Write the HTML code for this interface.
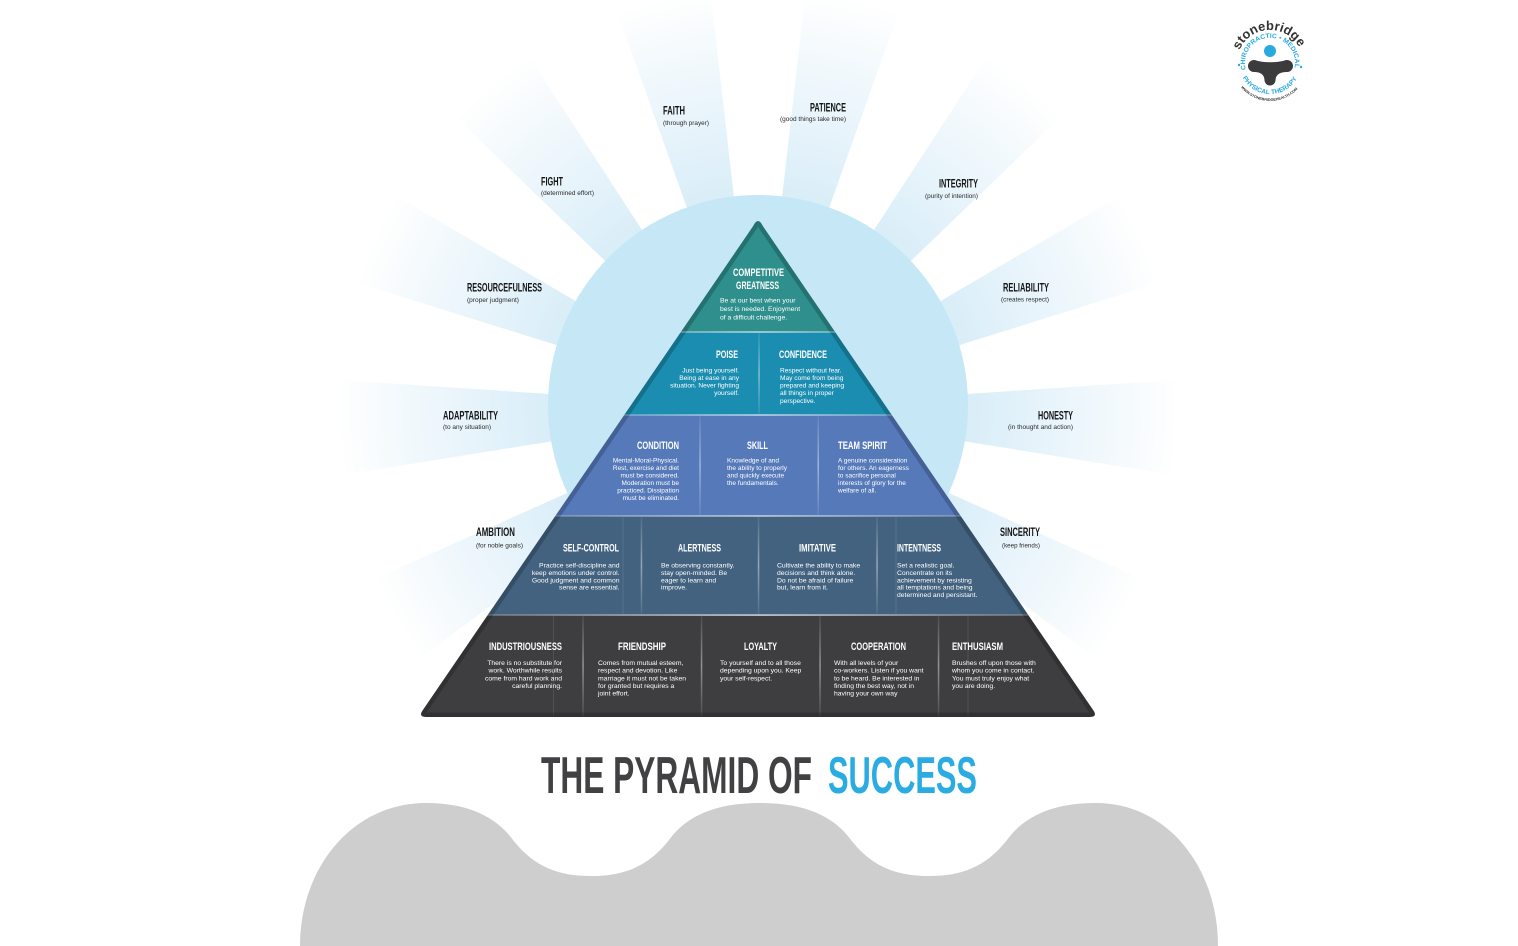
<!DOCTYPE html>
<html><head><meta charset="utf-8">
<style>
html,body{margin:0;padding:0;background:#fff;}
svg{display:block;}
.h{font-family:"Liberation Sans Narrow","Liberation Sans",sans-serif;font-weight:700;fill:#fff;font-size:11px;}
.b{font-family:"Liberation Sans",sans-serif;fill:#fff;}
.oh{font-family:"Liberation Sans Narrow","Liberation Sans",sans-serif;font-weight:700;fill:#151515;font-size:12px;}
.os{font-family:"Liberation Sans",sans-serif;fill:#2a2a2a;font-size:6px;}
.t{font-family:"Liberation Sans Narrow","Liberation Sans",sans-serif;font-weight:700;font-size:52px;}
</style></head><body>
<svg width="1518" height="946" viewBox="0 0 1518 946" xmlns="http://www.w3.org/2000/svg">
<defs>
<radialGradient id="rg" gradientUnits="userSpaceOnUse" cx="758" cy="408" r="420">
<stop offset="0.49" stop-color="#d8edf8"/>
<stop offset="0.7" stop-color="#e8f4fb"/>
<stop offset="0.88" stop-color="#f5fafd"/>
<stop offset="1" stop-color="#ffffff"/>
</radialGradient>
<clipPath id="pc"><path d="M753.2,226 Q758,216 762.8,226 L1093.1,710 Q1098,717 1090,717 L426,717 Q418,717 422.9,710 Z"/></clipPath>
<linearGradient id="hs" x1="0" x2="1" y1="0" y2="0"><stop offset="0" stop-color="#fff" stop-opacity="0.15"/><stop offset="0.5" stop-color="#fff" stop-opacity="0.65"/><stop offset="1" stop-color="#fff" stop-opacity="0.15"/></linearGradient>
<linearGradient id="vs" x1="0" x2="0" y1="0" y2="1"><stop offset="0" stop-color="#fff" stop-opacity="0.08"/><stop offset="0.5" stop-color="#fff" stop-opacity="0.45"/><stop offset="1" stop-color="#fff" stop-opacity="0.08"/></linearGradient>
<path id="arcS" d="M1239.6,50.1 A33,33 0 0 1 1300.4,50.1"/>
<path id="arcC" d="M1245.9,69.5 A25,25 0 1 1 1294.1,69.5"/>
<path id="arcP" d="M1242.6,77.6 A31,31 0 0 0 1297.4,77.6"/>
<path id="arcW" d="M1240.9,87.4 A38,38 0 0 0 1299.1,87.4"/>
</defs>

<!-- rays -->
<g fill="url(#rg)">
<polygon points="758,408 837.2,-285.5 991.7,-249.8"/>
<polygon points="758,408 678.8,-285.5 524.3,-249.8"/>
<polygon points="758,408 1139.2,-177.1 1261.5,-76.3"/>
<polygon points="758,408 376.8,-177.1 254.5,-76.3"/>
<polygon points="758,408 1361.1,54.7 1425.6,199.5"/>
<polygon points="758,408 154.9,54.7 90.4,199.5"/>
<polygon points="758,408 1456.3,361.2 1449.4,519.5"/>
<polygon points="758,408 59.7,361.2 66.6,519.5"/>
<polygon points="758,408 1402,695 1320,824"/>
<polygon points="758,408 114,695 196,824"/>
</g>

<!-- circle -->
<circle cx="758" cy="405" r="210" fill="#c6e7f6"/>

<!-- pyramid -->
<g clip-path="url(#pc)">
<rect x="400" y="200" width="720" height="132" fill="#2e8f8c"/>
<rect x="400" y="332" width="720" height="83" fill="#1b8db0"/>
<rect x="400" y="415" width="720" height="101" fill="#5579b9"/>
<rect x="400" y="516" width="720" height="99" fill="#42627f"/>
<rect x="400" y="615" width="720" height="110" fill="#3e3e40"/>
<rect x="600" y="331.2" width="320" height="1.6" fill="url(#hs)"/>
<rect x="560" y="414.2" width="400" height="1.6" fill="url(#hs)"/>
<rect x="500" y="515.2" width="520" height="1.6" fill="url(#hs)"/>
<rect x="440" y="614.2" width="640" height="1.8" fill="url(#hs)"/>
<rect x="758.3" y="333" width="1.5" height="81" fill="url(#vs)"/>
<rect x="699.3" y="416" width="1.5" height="99" fill="url(#vs)"/>
<rect x="817.5" y="416" width="1.5" height="99" fill="url(#vs)"/>
<rect x="640.7" y="517" width="1.5" height="97" fill="url(#vs)"/>
<rect x="757.8" y="517" width="1.5" height="97" fill="url(#vs)"/>
<rect x="876.3" y="517" width="1.5" height="97" fill="url(#vs)"/>
<rect x="622.5" y="517" width="1" height="97" fill="#fff" fill-opacity="0.1"/>
<rect x="895.5" y="517" width="1" height="97" fill="#fff" fill-opacity="0.1"/>
<rect x="582.3" y="616" width="1.5" height="100" fill="url(#vs)"/>
<rect x="700.8" y="616" width="1.5" height="100" fill="url(#vs)"/>
<rect x="819.3" y="616" width="1.5" height="100" fill="url(#vs)"/>
<rect x="937.8" y="616" width="1.5" height="100" fill="url(#vs)"/>
<rect x="553" y="616" width="1" height="100" fill="#fff" fill-opacity="0.1"/>
<rect x="967.5" y="616" width="1" height="100" fill="#fff" fill-opacity="0.1"/>
<path d="M753.2,226 Q758,216 762.8,226 L1093.1,710 Q1098,717 1090,717 L426,717 Q418,717 422.9,710 Z" fill="none" stroke="#000" stroke-opacity="0.2" stroke-width="9"/>
</g>

<!-- pyramid headings -->
<text class="h" x="733" y="276" textLength="51" lengthAdjust="spacingAndGlyphs">COMPETITIVE</text>
<text class="h" x="736" y="289" textLength="43" lengthAdjust="spacingAndGlyphs">GREATNESS</text>
<text class="h" x="716" y="358" textLength="22" lengthAdjust="spacingAndGlyphs">POISE</text>
<text class="h" x="779" y="358" textLength="48" lengthAdjust="spacingAndGlyphs">CONFIDENCE</text>
<text class="h" x="637" y="449" textLength="42" lengthAdjust="spacingAndGlyphs">CONDITION</text>
<text class="h" x="747" y="449" textLength="21" lengthAdjust="spacingAndGlyphs">SKILL</text>
<text class="h" x="838" y="449" textLength="49" lengthAdjust="spacingAndGlyphs">TEAM SPIRIT</text>
<text class="h" x="563" y="551.3" textLength="56" lengthAdjust="spacingAndGlyphs">SELF-CONTROL</text>
<text class="h" x="678" y="551.3" textLength="43" lengthAdjust="spacingAndGlyphs">ALERTNESS</text>
<text class="h" x="799" y="551.3" textLength="37" lengthAdjust="spacingAndGlyphs">IMITATIVE</text>
<text class="h" x="897" y="551.3" textLength="44" lengthAdjust="spacingAndGlyphs">INTENTNESS</text>
<text class="h" x="489" y="650" textLength="73" lengthAdjust="spacingAndGlyphs">INDUSTRIOUSNESS</text>
<text class="h" x="618" y="650" textLength="48" lengthAdjust="spacingAndGlyphs">FRIENDSHIP</text>
<text class="h" x="744" y="650" textLength="33" lengthAdjust="spacingAndGlyphs">LOYALTY</text>
<text class="h" x="851" y="650" textLength="55" lengthAdjust="spacingAndGlyphs">COOPERATION</text>
<text class="h" x="952" y="650" textLength="51" lengthAdjust="spacingAndGlyphs">ENTHUSIASM</text>

<!-- pyramid body -->
<text class="b" font-size="6.8"><tspan x="720" y="302.5">Be at our best when your</tspan><tspan x="720" y="311">best is needed. Enjoyment</tspan><tspan x="720" y="319.5">of a difficult challenge.</tspan></text>

<text class="b" font-size="6.6" text-anchor="end"><tspan x="739" y="372.4">Just being yourself.</tspan><tspan x="739" y="380">Being at ease in any</tspan><tspan x="739" y="387.6">situation. Never fighting</tspan><tspan x="739" y="395.2">yourself.</tspan></text>
<text class="b" font-size="6.6"><tspan x="780" y="372.4">Respect without fear.</tspan><tspan x="780" y="380">May come from being</tspan><tspan x="780" y="387.6">prepared and keeping</tspan><tspan x="780" y="395.2">all things in proper</tspan><tspan x="780" y="402.8">perspective.</tspan></text>

<text class="b" font-size="6.5" text-anchor="end"><tspan x="679" y="462.4">Mental-Moral-Physical.</tspan><tspan x="679" y="469.9">Rest, exercise and diet</tspan><tspan x="679" y="477.4">must be considered.</tspan><tspan x="679" y="484.9">Moderation must be</tspan><tspan x="679" y="492.4">practiced. Dissipation</tspan><tspan x="679" y="499.9">must be eliminated.</tspan></text>
<text class="b" font-size="6.5"><tspan x="727" y="462.4">Knowledge of and</tspan><tspan x="727" y="469.9">the ability to properly</tspan><tspan x="727" y="477.4">and quickly execute</tspan><tspan x="727" y="484.9">the fundamentals.</tspan></text>
<text class="b" font-size="6.5"><tspan x="838" y="462.4">A genuine consideration</tspan><tspan x="838" y="469.9">for others. An eagerness</tspan><tspan x="838" y="477.4">to sacrifice personal</tspan><tspan x="838" y="484.9">interests of glory for the</tspan><tspan x="838" y="492.4">welfare of all.</tspan></text>

<text class="b" font-size="6.8" text-anchor="end"><tspan x="619.5" y="567.7">Practice self-discipline and</tspan><tspan x="619.5" y="575">keep emotions under control.</tspan><tspan x="619.5" y="582.4">Good judgment and common</tspan><tspan x="619.5" y="589.7">sense are essential.</tspan></text>
<text class="b" font-size="6.8"><tspan x="661" y="567.7">Be observing constantly.</tspan><tspan x="661" y="575">stay open-minded. Be</tspan><tspan x="661" y="582.4">eager to learn and</tspan><tspan x="661" y="589.7">improve.</tspan></text>
<text class="b" font-size="6.8"><tspan x="777" y="567.7">Cultivate the ability to make</tspan><tspan x="777" y="575">decisions and think alone.</tspan><tspan x="777" y="582.4">Do not be afraid of failure</tspan><tspan x="777" y="589.7">but, learn from it.</tspan></text>
<text class="b" font-size="6.8"><tspan x="897" y="567.7">Set a realistic goal.</tspan><tspan x="897" y="575">Concentrate on its</tspan><tspan x="897" y="582.4">achievement by resisting</tspan><tspan x="897" y="589.7">all temptations and being</tspan><tspan x="897" y="597">determined and persistant.</tspan></text>

<text class="b" font-size="6.8" text-anchor="end"><tspan x="562" y="665.1">There is no substitute for</tspan><tspan x="562" y="672.7">work. Worthwhile results</tspan><tspan x="562" y="680.4">come from hard work and</tspan><tspan x="562" y="688">careful planning.</tspan></text>
<text class="b" font-size="6.8"><tspan x="598" y="665.1">Comes from mutual esteem,</tspan><tspan x="598" y="672.7">respect and devotion. Like</tspan><tspan x="598" y="680.4">marriage it must not be taken</tspan><tspan x="598" y="688">for granted but requires a</tspan><tspan x="598" y="695.6">joint effort.</tspan></text>
<text class="b" font-size="6.8"><tspan x="720" y="665.1">To yourself and to all those</tspan><tspan x="720" y="672.7">depending upon you. Keep</tspan><tspan x="720" y="680.4">your self-respect.</tspan></text>
<text class="b" font-size="6.8"><tspan x="834" y="665.1">With all levels of your</tspan><tspan x="834" y="672.7">co-workers. Listen if you want</tspan><tspan x="834" y="680.4">to be heard. Be interested in</tspan><tspan x="834" y="688">finding the best way, not in</tspan><tspan x="834" y="695.6">having your own way</tspan></text>
<text class="b" font-size="6.8"><tspan x="952" y="665.1">Brushes off upon those with</tspan><tspan x="952" y="672.7">whom you come in contact.</tspan><tspan x="952" y="680.4">You must truly enjoy what</tspan><tspan x="952" y="688">you are doing.</tspan></text>

<!-- outer labels -->
<text class="oh" x="663" y="114.3" textLength="22" lengthAdjust="spacingAndGlyphs">FAITH</text>
<text class="os" x="663" y="125.2" textLength="46" lengthAdjust="spacingAndGlyphs">(through prayer)</text>
<text class="oh" x="810" y="111.3" textLength="36" lengthAdjust="spacingAndGlyphs">PATIENCE</text>
<text class="os" x="780" y="121.2" textLength="66" lengthAdjust="spacingAndGlyphs">(good things take time)</text>
<text class="oh" x="541" y="185.3" textLength="22" lengthAdjust="spacingAndGlyphs">FIGHT</text>
<text class="os" x="541" y="195.2" textLength="53" lengthAdjust="spacingAndGlyphs">(determined effort)</text>
<text class="oh" x="939" y="187.3" textLength="39" lengthAdjust="spacingAndGlyphs">INTEGRITY</text>
<text class="os" x="925" y="198.2" textLength="53" lengthAdjust="spacingAndGlyphs">(purity of intention)</text>
<text class="oh" x="467" y="291.3" textLength="75" lengthAdjust="spacingAndGlyphs">RESOURCEFULNESS</text>
<text class="os" x="467" y="302.2" textLength="52" lengthAdjust="spacingAndGlyphs">(proper judgment)</text>
<text class="oh" x="1003" y="291.3" textLength="46" lengthAdjust="spacingAndGlyphs">RELIABILITY</text>
<text class="os" x="1001" y="301.7" textLength="48" lengthAdjust="spacingAndGlyphs">(creates respect)</text>
<text class="oh" x="443" y="419.3" textLength="55" lengthAdjust="spacingAndGlyphs">ADAPTABILITY</text>
<text class="os" x="443" y="429.2" textLength="48" lengthAdjust="spacingAndGlyphs">(to any situation)</text>
<text class="oh" x="1038" y="419.3" textLength="35" lengthAdjust="spacingAndGlyphs">HONESTY</text>
<text class="os" x="1008" y="429.2" textLength="65" lengthAdjust="spacingAndGlyphs">(in thought and action)</text>
<text class="oh" x="476" y="536.2" textLength="39" lengthAdjust="spacingAndGlyphs">AMBITION</text>
<text class="os" x="476" y="547.4" textLength="47" lengthAdjust="spacingAndGlyphs">(for noble goals)</text>
<text class="oh" x="1000" y="536.2" textLength="40" lengthAdjust="spacingAndGlyphs">SINCERITY</text>
<text class="os" x="1002" y="547.4" textLength="38" lengthAdjust="spacingAndGlyphs">(keep friends)</text>

<!-- title -->
<text class="t" x="541" y="793" fill="#414042" textLength="271" lengthAdjust="spacingAndGlyphs">THE PYRAMID OF</text>
<text class="t" x="828" y="793" fill="#2aabe2" textLength="149" lengthAdjust="spacingAndGlyphs">SUCCESS</text>

<!-- wave -->
<path fill="#cecece" d="M300,946 C300,868 352,803 426,803 C465,803 495,815 513,840 C535,868 560,876 591,876 C622,876 647,868 669,840 C687,815 717,803 760,803 C803,803 833,815 851,840 C873,868 898,876 929,876 C960,876 985,868 1007,840 C1025,815 1055,803 1096,803 C1168,803 1218,868 1218,946 Z"/>

<!-- logo -->
<g>
<text font-family="Liberation Sans, sans-serif" font-weight="700" font-size="13" fill="#333"><textPath href="#arcS" textLength="74" lengthAdjust="spacingAndGlyphs">stonebridge</textPath></text>
<text font-family="Liberation Sans, sans-serif" font-weight="700" font-size="6.5" fill="#29a9e0"><textPath href="#arcC" textLength="90" lengthAdjust="spacingAndGlyphs">CHIROPRACTIC • MEDICAL</textPath></text>
<text font-family="Liberation Sans, sans-serif" font-weight="700" font-size="6.5" fill="#29a9e0"><textPath href="#arcP" textLength="66" lengthAdjust="spacingAndGlyphs">PHYSICAL THERAPY</textPath></text>
<text font-family="Liberation Sans, sans-serif" font-weight="700" font-size="3.6" fill="#333"><textPath href="#arcW" textLength="64" lengthAdjust="spacingAndGlyphs">WWW.STONEBRIDGEHEALTH.COM</textPath></text>
<circle cx="1239" cy="65" r="1.2" fill="#29a9e0"/>
<circle cx="1301" cy="67" r="1.2" fill="#29a9e0"/>
<circle cx="1270" cy="51" r="6" fill="#29a9e0"/>
<g fill="#3b3b3d">
<circle cx="1254" cy="66" r="6"/>
<circle cx="1287" cy="66" r="6"/>
<circle cx="1270" cy="80" r="5.5"/>
<path d="M1254,60 Q1270,64.5 1287,60 L1287,72 Q1276,72 1275.5,80 L1264.5,80 Q1264,72 1254,72 Z"/>
</g>
</g>
</svg>
</body></html>
